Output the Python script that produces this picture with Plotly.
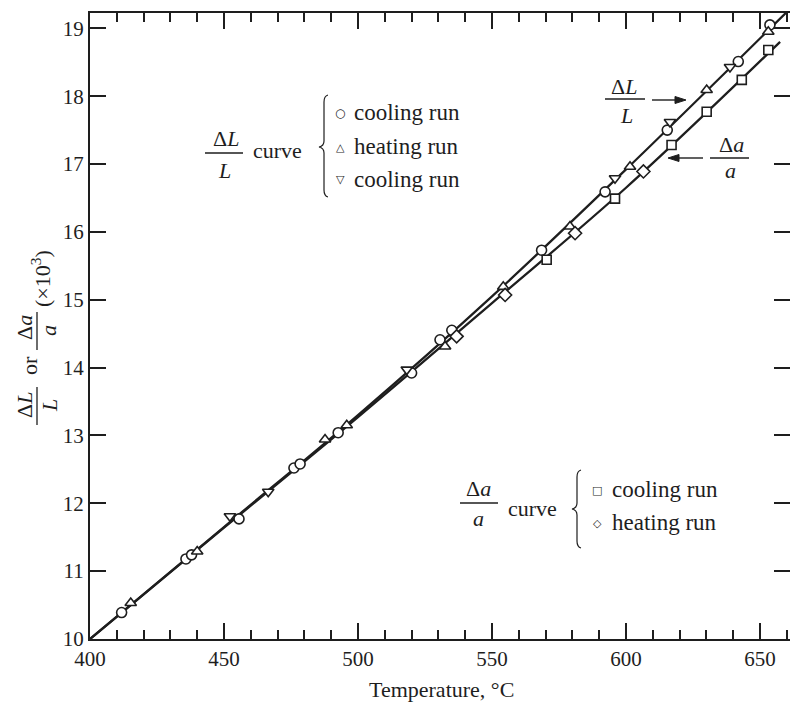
import plotly.graph_objects as go

# ---------------- data ----------------
# fitted curves
curve_L_T = [400, 450, 500, 550, 600, 660]
curve_L_V = [10.0, 11.65, 13.3, 15.05, 16.92, 19.24]
curve_a_T = [400, 450, 500, 550, 600, 657.5]
curve_a_V = [10.0, 11.64, 13.27, 14.95, 16.65, 18.8]

# dL/L, cooling run (circles)
circ_T = [411.8, 435.8, 437.9, 455.6, 476.1, 478.4, 492.6, 520.0, 530.6, 535.0, 568.5, 592.2, 615.4, 641.9, 653.7]
circ_V = [10.39, 11.18, 11.24, 11.77, 12.52, 12.58, 13.04, 13.92, 14.41, 14.55, 15.73, 16.59, 17.50, 18.51, 19.05]
# dL/L, heating run (up triangles)
tri_T = [415.2, 440.0, 487.7, 495.8, 532.5, 554.2, 579.1, 601.5, 630.1, 653.1]
tri_V = [10.53, 11.29, 12.94, 13.15, 14.31, 15.19, 16.08, 16.96, 18.09, 18.95]
# dL/L, cooling run (down triangles)
tdn_T = [452.2, 466.5, 518.2, 595.9, 616.4, 638.8]
tdn_V = [11.81, 12.17, 13.97, 16.79, 17.62, 18.43]
# da/a, cooling run (squares)
sq_T = [570.4, 595.9, 617.0, 630.1, 643.2, 653.1]
sq_V = [15.59, 16.49, 17.28, 17.77, 18.24, 18.68]
# da/a, heating run (diamonds)
dia_T = [536.8, 554.9, 581.0, 606.5]
dia_V = [14.46, 15.07, 15.98, 16.89]

x_ticks = [400, 450, 500, 550, 600, 650]
y_ticks = [10, 11, 12, 13, 14, 15, 16, 17, 18, 19]

# ---------------- layout helpers ----------------
W, H = 790, 704
PL, PR, PT, PB = 90, 790, 13, 639
SERIF = "Liberation Serif"
INK = "#1e1e1e"


def px(x):
    return (x - PL) / (PR - PL)


def py(y):
    return (PB - y) / (PB - PT)


def ann(text, x, y, size=22, xanchor="center", angle=0, family=SERIF):
    return dict(text=text, x=px(x), y=py(y), xref="paper", yref="paper",
                showarrow=False, xanchor=xanchor, yanchor="middle",
                textangle=angle, font=dict(family=family, size=size, color=INK))


def hline(x0, x1, y, w=1.3):
    return dict(type="line", xref="paper", yref="paper", x0=px(x0), x1=px(x1),
                y0=py(y), y1=py(y), line=dict(color=INK, width=w))


def vline(x, y0, y1, w=1.3):
    return dict(type="line", xref="paper", yref="paper", x0=px(x), x1=px(x),
                y0=py(y0), y1=py(y1), line=dict(color=INK, width=w))


def path(points, closed=False, fill=None, w=1.2):
    s = "M " + " L ".join(f"{px(a):.5f},{py(b):.5f}" for a, b in points)
    if closed:
        s += " Z"
    d = dict(type="path", xref="paper", yref="paper", path=s,
             line=dict(color=INK, width=w))
    if fill:
        d["fillcolor"] = fill
    return d


def arrow(x0, x1, y):
    # shaft from x0 to x1, head at x1
    d = 1 if x1 > x0 else -1
    head = [(x1, y), (x1 - d * 11, y - 3.5), (x1 - d * 11, y + 3.5)]
    return [hline(x0, x1 - d * 8, y, 1.4), path(head, closed=True, fill=INK, w=1)]


def brace(x, ytop, ybot, ymid):
    pts = [("M", [(x + 4, ytop)]),
           ("Q", [(x, ytop + 1), (x, ytop + 7)]),
           ("L", [(x, ymid - 6)]),
           ("Q", [(x, ymid - 1), (x - 5, ymid)]),
           ("Q", [(x, ymid + 1), (x, ymid + 6)]),
           ("L", [(x, ybot - 7)]),
           ("Q", [(x, ybot - 1), (x + 4, ybot)])]
    s = ""
    for cmd, ps in pts:
        s += cmd + " " + " ".join(f"{px(a):.5f},{py(b):.5f}" for a, b in ps) + " "
    return dict(type="path", xref="paper", yref="paper", path=s.strip(),
                line=dict(color=INK, width=1.2))


fig = go.Figure()

# curves
fig.add_trace(go.Scatter(x=curve_L_T, y=curve_L_V, mode="lines",
                         line=dict(color=INK, width=2.3, shape="spline"), hoverinfo="skip"))
fig.add_trace(go.Scatter(x=curve_a_T, y=curve_a_V, mode="lines",
                         line=dict(color=INK, width=2.3, shape="spline"), hoverinfo="skip"))


def pts(xs, ys, symbol, size=10):
    fig.add_trace(go.Scatter(x=xs, y=ys, mode="markers",
                             marker=dict(symbol=symbol, size=size, color="white",
                                         line=dict(color=INK, width=1.6))))


pts(circ_T, circ_V, "circle")
pts(tri_T, tri_V, "triangle-up")
pts(tdn_T, tdn_V, "triangle-down")
pts(sq_T, sq_V, "square", 9)
pts(dia_T, dia_V, "diamond", 10)

annotations = []
shapes = []

# left legend (dL/L curve)
annotations += [ann("Δ<i>L</i>", 226, 139), ann("<i>L</i>", 224, 170),
                ann("curve", 251, 150, xanchor="left")]
shapes += [hline(205, 243, 153), brace(324, 95, 197, 147)]
annotations += [ann("○", 340, 113, 12, family="DejaVu Sans"),
                ann("△", 340, 147, 11, family="DejaVu Sans"),
                ann("▽", 340, 180, 11, family="DejaVu Sans")]
annotations += [ann("cooling run", 352, 112, 23, xanchor="left"),
                ann("heating run", 352, 146, 23, xanchor="left"),
                ann("cooling run", 352, 179, 23, xanchor="left")]

# lower legend (da/a curve)
annotations += [ann("Δ<i>a</i>", 478, 488), ann("<i>a</i>", 478, 518),
                ann("curve", 506, 508, xanchor="left")]
shapes += [hline(460, 498, 503), brace(577, 470, 548, 509)]
annotations += [ann("□", 597, 490, 11, family="DejaVu Sans"),
                ann("◇", 597, 523, 11, family="DejaVu Sans")]
annotations += [ann("cooling run", 610, 489, 23, xanchor="left"),
                ann("heating run", 610, 522, 23, xanchor="left")]

# right side labels with arrows
annotations += [ann("Δ<i>L</i>", 624, 86), ann("<i>L</i>", 626, 116)]
shapes += [hline(605, 645, 99)]
shapes += arrow(652, 686, 100)
annotations += [ann("Δ<i>a</i>", 731, 145), ann("<i>a</i>", 730, 170)]
shapes += [hline(710, 749, 158)]
shapes += arrow(703, 668, 158)

# y-axis title (rotated pieces)
annotations += [ann("Δ<i>L</i>", 25, 405, angle=-90), ann("<i>L</i>", 49, 406, angle=-90),
                ann("or", 30, 366, angle=-90),
                ann("Δ<i>a</i>", 25, 328, angle=-90), ann("<i>a</i>", 48, 331, angle=-90),
                ann("(×10<sup>3</sup>)", 41, 278, angle=-90)]
shapes += [vline(37, 387, 425), vline(37, 312, 350)]

# x-axis title
annotations.append(ann("Temperature, °C", 441, 689))

fig.update_layout(
    width=W, height=H,
    margin=dict(l=PL, r=W - PR, t=PT, b=H - PB, autoexpand=False),
    paper_bgcolor="white", plot_bgcolor="white",
    showlegend=False,
    annotations=annotations, shapes=shapes,
    font=dict(family=SERIF, color=INK),
)
fig.update_xaxes(range=[400, 400 + (PR - PL) / 2.68], tickvals=x_ticks,
                 automargin=False,
                 ticks="inside", ticklen=16, tickwidth=1.5, tickcolor=INK,
                 showline=True, linewidth=2, linecolor=INK, mirror="ticks",
                 showgrid=False, zeroline=False,
                 minor=dict(dtick=10, tick0=400, ticks="inside", ticklen=9,
                            tickwidth=1.5, tickcolor=INK, showgrid=False),
                 tickfont=dict(family=SERIF, size=21, color=INK))
fig.update_yaxes(range=[10, 19 + 15.3 / 67.86], tickvals=y_ticks,
                 automargin=False,
                 ticks="inside", ticklen=16, tickwidth=1.5, tickcolor=INK,
                 showline=True, linewidth=2, linecolor=INK, mirror="ticks",
                 showgrid=False, zeroline=False,
                 tickfont=dict(family=SERIF, size=21, color=INK))

fig.write_html("out.html", config={"displayModeBar": False},
               post_script="document.body.style.margin='0px';document.body.style.overflow='hidden';")
